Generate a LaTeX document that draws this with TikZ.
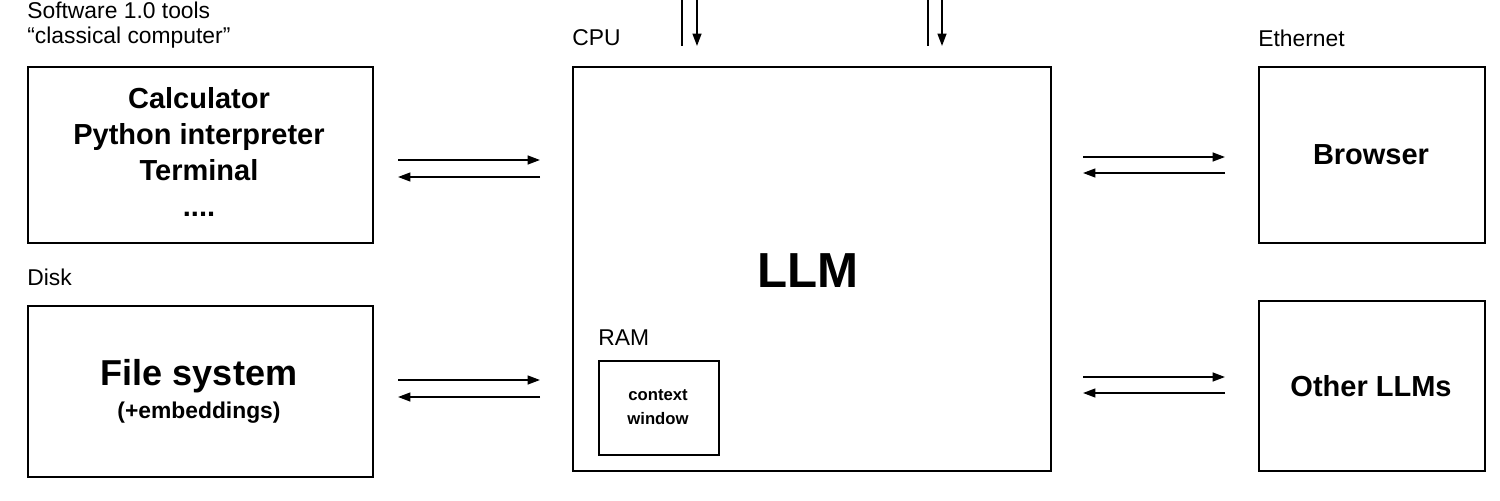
\documentclass[tikz,border=0pt]{standalone}
\usepackage{fontspec}
\setmainfont{Liberation Sans}
\usetikzlibrary{arrows.meta}
\begin{document}
\begin{tikzpicture}[x=0.02cm,y=-0.02cm,
  box/.style={draw,line width=1.2pt,inner sep=0,anchor=north west},
  lbl/.style={anchor=west,font=\fontsize{13}{15}\selectfont,inner sep=0},
  ar/.style={line width=1pt,-{Triangle[length=7pt,width=5pt]}},
  btxt/.style={font=\bfseries\fontsize{16.5}{20.5}\selectfont,align=center}]
\useasboundingbox (0,0) rectangle (1500,500);
\node[box,minimum width=345*0.02cm,minimum height=176*0.02cm] (sw) at (27,66) {};
\node[box,minimum width=345*0.02cm,minimum height=171*0.02cm] (fs) at (27,305) {};
\node[box,minimum width=478*0.02cm,minimum height=404*0.02cm] (llm) at (572,66) {};
\node[box,minimum width=120*0.02cm,minimum height=94*0.02cm] (cw) at (598,360) {};
\node[box,minimum width=226*0.02cm,minimum height=176*0.02cm] (br) at (1258,66) {};
\node[box,minimum width=226*0.02cm,minimum height=170*0.02cm] (ol) at (1258,300) {};
\node[btxt] (swt) at (199,152) {Calculator\\Python interpreter\\Terminal\\....};
\node[font=\bfseries\fontsize{20.5}{24}\selectfont] (fst) at (199,376) {File system};
\node[font=\bfseries\fontsize{13}{15}\selectfont] (fse) at (199,413) {(+embeddings)};
\node[font=\bfseries\fontsize{28}{32}\selectfont] (llmt) at (808,271) {LLM};
\node[font=\bfseries\fontsize{9.5}{14}\selectfont,align=center] (cwt) at (658,407) {context\\window};
\node[btxt] (brt) at (1371,155) {Browser};
\node[btxt] (olt) at (1371,386) {Other LLMs};
\node[lbl] (l1) at (27,10) {Software 1.0 tools};
\node[lbl] (l2) at (27,38) {“classical computer”};
\node[lbl] (l3) at (572,38) {CPU};
\node[lbl] (l4) at (1258,38) {Ethernet};
\node[lbl] (l5) at (27,277) {Disk};
\node[lbl] (l6) at (598,338) {RAM};
\coordinate (a1) at (398,160); \coordinate (a2) at (540,160);
\coordinate (a3) at (540,177); \coordinate (a4) at (398,177);
\coordinate (b1) at (398,380); \coordinate (b2) at (540,380);
\coordinate (b3) at (540,397); \coordinate (b4) at (398,397);
\coordinate (c1) at (1083,157); \coordinate (c2) at (1225,157);
\coordinate (c3) at (1225,173); \coordinate (c4) at (1083,173);
\coordinate (d1) at (1083,377); \coordinate (d2) at (1225,377);
\coordinate (d3) at (1225,393); \coordinate (d4) at (1083,393);
\draw[ar] (a1)--(a2); \draw[ar] (a3)--(a4);
\draw[ar] (b1)--(b2); \draw[ar] (b3)--(b4);
\draw[ar] (c1)--(c2); \draw[ar] (c3)--(c4);
\draw[ar] (d1)--(d2); \draw[ar] (d3)--(d4);
\coordinate (t1) at (682,-20); \coordinate (t2) at (682,46);
\coordinate (t3) at (697,-20); \coordinate (t4) at (697,46);
\coordinate (u1) at (928,-20); \coordinate (u2) at (928,46);
\coordinate (u3) at (942,-20); \coordinate (u4) at (942,46);
\draw[line width=1pt] (t1)--(t2); \draw[ar] (t3)--(t4);
\draw[line width=1pt] (u1)--(u2); \draw[ar] (u3)--(u4);
\end{tikzpicture}
\end{document}
